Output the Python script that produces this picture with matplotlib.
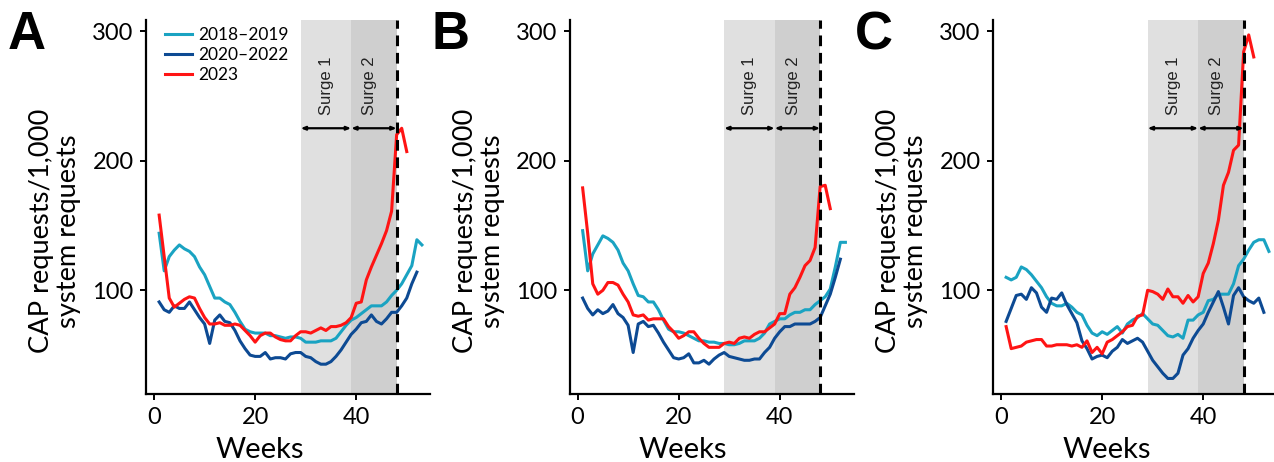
import numpy as np
import matplotlib.pyplot as plt

plt.rcParams["font.family"] = ["Lato", "DejaVu Sans"]

# weeks (1..53)
weeks = np.arange(1, 54)

# Panel A
a_1819 = [144, 115, 126, 131, 135, 132, 130, 126, 118, 112, 103, 94, 94, 91, 89, 83, 76, 70, 68, 67,
          67, 67, 65, 65, 64, 63, 64, 64, 63, 60, 60, 60, 61, 61, 61, 63, 68, 73, 77, 79,
          82, 85, 88, 88, 88, 91, 96, 100, 105, 112, 119, 139, 135]
a_2022 = [91, 85, 83, 88, 86, 86, 91, 85, 79, 74, 59, 77, 81, 76, 75, 69, 61, 55, 50, 49,
          49, 52, 47, 48, 48, 47, 51, 52, 52, 49, 48, 45, 43, 43, 45, 49, 54, 60, 66, 70,
          75, 76, 81, 76, 74, 78, 83, 83, 88, 94, 105, 114]
a_2023 = [158, 126, 94, 87, 90, 93, 95, 94, 86, 79, 74, 74, 75, 73, 73, 74, 73, 69, 65, 60,
          65, 67, 67, 64, 62, 61, 61, 65, 68, 68, 67, 69, 71, 69, 72, 72, 73, 75, 79, 90,
          91, 108, 118, 127, 136, 146, 161, 220, 225, 207]

# Panel B
b_1819 = [146, 115, 128, 135, 142, 140, 137, 131, 121, 115, 105, 96, 95, 91, 91, 85, 77, 70, 68, 68,
          67, 65, 63, 61, 61, 60, 60, 59, 59, 58, 58, 59, 61, 61, 61, 63, 67, 74, 76, 78,
          78, 81, 83, 83, 85, 85, 89, 92, 95, 101, 118, 137, 137]
b_2022 = [94, 86, 81, 85, 82, 84, 89, 82, 79, 73, 52, 74, 76, 72, 73, 67, 60, 54, 48, 47,
          48, 51, 44, 44, 46, 43, 47, 50, 52, 49, 48, 47, 46, 46, 47, 47, 52, 56, 63, 68,
          72, 72, 74, 74, 74, 74, 76, 79, 88, 97, 110, 124]
b_2023 = [179, 144, 105, 97, 100, 106, 106, 104, 97, 91, 81, 80, 81, 77, 78, 78, 78, 72, 68, 63,
          65, 68, 68, 63, 59, 56, 56, 56, 59, 60, 59, 63, 64, 63, 66, 68, 68, 71, 74, 82,
          82, 97, 102, 110, 119, 123, 133, 180, 181, 163]

# Panel C
c_1819 = [110, 108, 110, 118, 116, 112, 107, 102, 95, 90, 88, 88, 90, 87, 83, 81, 73, 67, 65, 68,
          66, 69, 72, 67, 74, 77, 79, 82, 78, 74, 73, 69, 65, 64, 66, 63, 77, 77, 81, 83,
          92, 93, 97, 97, 97, 105, 119, 124, 131, 137, 139, 139, 130]
c_2022 = [76, 86, 96, 97, 93, 102, 98, 87, 83, 94, 93, 98, 89, 82, 75, 61, 55, 47, 49, 50,
          48, 53, 56, 62, 59, 61, 63, 60, 53, 46, 41, 36, 32, 32, 36, 50, 55, 63, 69, 74,
          83, 91, 99, 87, 74, 96, 102, 95, 92, 90, 94, 83]
c_2023 = [72, 55, 56, 57, 60, 61, 62, 62, 57, 57, 58, 58, 58, 57, 58, 56, 61, 52, 56, 51,
          60, 62, 65, 68, 72, 73, 80, 81, 100, 99, 97, 93, 101, 95, 95, 90, 96, 91, 95, 113,
          121, 136, 154, 181, 191, 208, 212, 284, 297, 280]

panels = ["A", "B", "C"]
series = [(a_1819, a_2022, a_2023), (b_1819, b_2022, b_2023), (c_1819, c_2022, c_2023)]
labels = ["2018\u20132019", "2020\u20132022", "2023"]
colors = ["#1aa3c2", "#0d4a93", "#ff1414"]

surge1 = (29, 39)
surge2 = (39, 48)

fig = plt.figure(figsize=(12.74, 4.62), dpi=100)
lefts = [146, 569.5, 993]

for i, (name, data) in enumerate(zip(panels, series)):
    ax = fig.add_axes([lefts[i] / 1274, 68 / 462, 284 / 1274, 374 / 462])
    ax.axvspan(*surge1, color="#e0e0e0", lw=0, zorder=0)
    ax.axvspan(*surge2, color="#cfcfcf", lw=0, zorder=0)
    ax.axvline(surge2[1], color="black", lw=2.2, ls=(0, (3.5, 2.2)), zorder=3)

    for vals, lab, col in zip(data, labels, colors):
        ax.plot(weeks[:len(vals)], vals, color=col, lw=2.2, label=lab, zorder=2)

    # surge arrows
    for s, txt, tx in [(surge1, "Surge 1", 34.1), (surge2, "Surge 2", 42.7)]:
        ax.annotate("", xy=(s[0], 225), xytext=(s[1], 225),
                    arrowprops=dict(arrowstyle="<|-|>,head_length=0.25,head_width=0.1",
                                    color="black", lw=1.6, shrinkA=0, shrinkB=0), zorder=4)
        ax.text(tx, 258, txt, rotation=90, ha="center", va="center",
                fontsize=12, color="#222222", family="Liberation Sans")

    ax.set_xlim(-1.6, 54.6)
    ax.set_ylim(20, 308.5)
    ax.set_xticks([0, 20, 40])
    ax.set_yticks([100, 200, 300])
    ax.spines["top"].set_visible(False)
    ax.spines["right"].set_visible(False)
    ax.spines["left"].set_linewidth(1.6)
    ax.spines["bottom"].set_linewidth(1.6)
    ax.tick_params(axis="both", length=4, width=1.4, labelsize=17, pad=5, colors="black")
    ax.set_ylabel("CAP requests/1,000\nsystem requests", fontsize=19.6, linespacing=1.1)
    ax.yaxis.set_label_coords(-0.228, 0.435)
    ax.set_xlabel("Weeks", fontsize=21)
    ax.xaxis.set_label_coords(0.40, -0.115)

    fig.text((lefts[i] - 138) / 1274, 1 - 10 / 462, name, fontsize=38,
             fontweight="bold", family="Liberation Sans", ha="left", va="top")

    if i == 0:
        ax.legend(loc="upper left", bbox_to_anchor=(0.03, 1.01), frameon=False,
                  fontsize=12.5, handlelength=1.55, handletextpad=0.35,
                  labelspacing=0.25, borderaxespad=0.2)

fig.savefig("out.png", dpi=100)
